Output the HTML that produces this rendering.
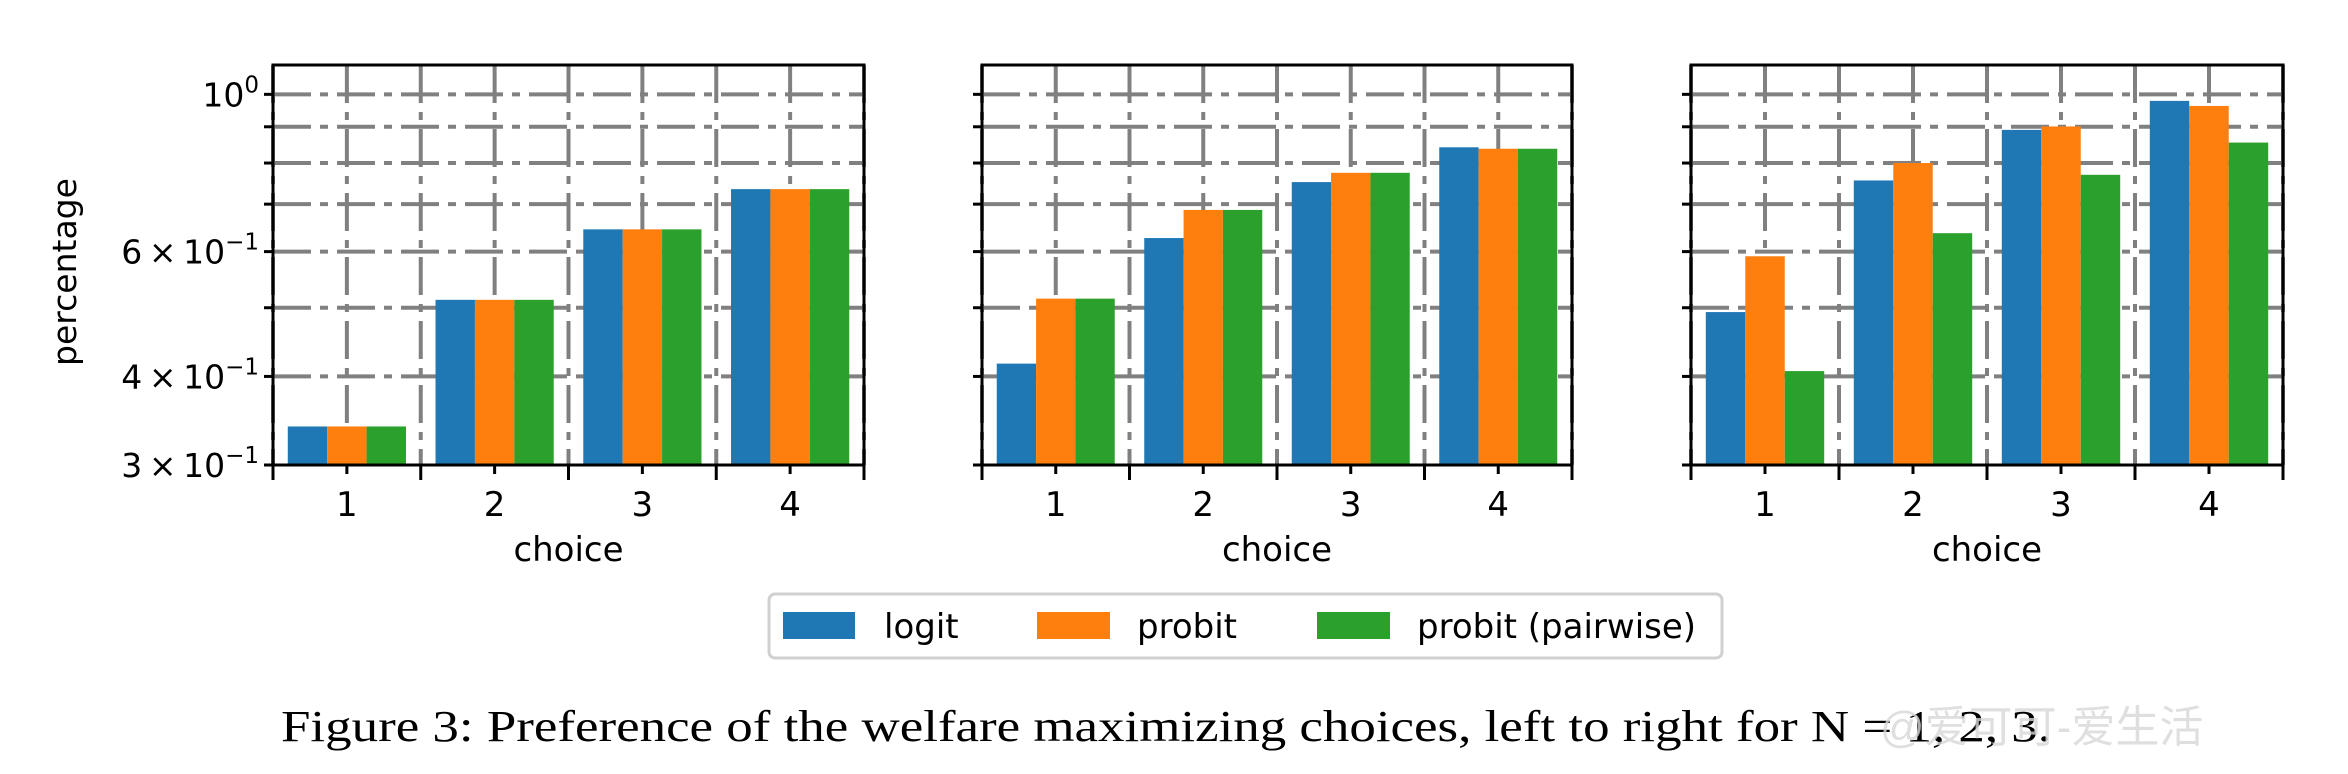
<!DOCTYPE html>
<html><head><meta charset="utf-8">
<style>
html,body{margin:0;padding:0;background:#fff;}
svg{display:block;}
</style></head>
<body>
<svg id="fig" width="2348" height="774" viewBox="0 0 2348 774" xmlns="http://www.w3.org/2000/svg" font-family="DejaVu Sans, Liberation Sans, sans-serif">
<rect x="0" y="0" width="2348" height="774" fill="#fff"/>
<g id="panels"></g>
<text x="0" y="0" transform="translate(76,272) rotate(-90)" text-anchor="middle" font-size="33" fill="#000">percentage</text>
<g>
<rect x="769" y="594" width="953" height="64" rx="6" fill="#fff" stroke="#d0d0d0" stroke-width="3"/>
<g><rect x="783" y="612" width="72" height="27" fill="#1f77b4"/><text x="884" y="638" font-size="34">logit</text></g>
<g><rect x="1037" y="612" width="73" height="27" fill="#ff7f0e"/><text x="1137" y="638" font-size="34">probit</text></g>
<g><rect x="1317" y="612" width="73" height="27" fill="#2ca02c"/><text x="1417" y="638" font-size="34">probit (pairwise)</text></g>
</g>
<text x="281" y="741" font-family="Liberation Serif, serif" font-size="44" textLength="1770" lengthAdjust="spacingAndGlyphs" fill="#000">Figure 3: Preference of the welfare maximizing choices, left to right for N = 1, 2, 3.</text>
<text x="1880" y="742" font-family="Liberation Sans, Noto Sans CJK SC, sans-serif" font-size="44" fill="#d8d8d8" opacity="0.8">@爱可可-爱生活</text>
</svg>
<script>
const categories = [1, 2, 3, 4];
const seriesNames = ["logit", "probit", "probit (pairwise)"];
const seriesColors = ["#1f77b4", "#ff7f0e", "#2ca02c"];
const panel1Logit = [0.340, 0.513, 0.645, 0.735];
const panel1Probit = [0.340, 0.513, 0.645, 0.735];
const panel1Pairwise = [0.340, 0.513, 0.645, 0.735];
const panel2Logit = [0.417, 0.627, 0.752, 0.842];
const panel2Probit = [0.515, 0.687, 0.775, 0.838];
const panel2Pairwise = [0.515, 0.687, 0.775, 0.838];
const panel3Logit = [0.493, 0.756, 0.891, 0.979];
const panel3Probit = [0.591, 0.800, 0.901, 0.963];
const panel3Pairwise = [0.407, 0.637, 0.770, 0.855];
const yMajorTicks = [0.3, 0.4, 0.6, 1.0];
const yMajorLabels = [["3","−1"], ["4","−1"], ["6","−1"], [null,"0"]];
const yMinorTicks = [0.5, 0.7, 0.8, 0.9];
const yDomain = [0.3, 1.1];

const panels = [
  {left: 273, right: 864, labels: true, series: [panel1Logit, panel1Probit, panel1Pairwise]},
  {left: 982, right: 1572, labels: false, series: [panel2Logit, panel2Probit, panel2Pairwise]},
  {left: 1691, right: 2283, labels: false, series: [panel3Logit, panel3Probit, panel3Pairwise]}
];
const TOP = 65, BOTTOM = 465;
const NS = "http://www.w3.org/2000/svg";
const root = document.getElementById('panels');
function mk(tag, attrs, parent) {
  const e = document.createElementNS(NS, tag);
  for (const k in attrs) e.setAttribute(k, attrs[k]);
  parent.appendChild(e);
  return e;
}
function yScale(v) {
  const l0 = Math.log10(yDomain[0]), l1 = Math.log10(yDomain[1]);
  return BOTTOM - (Math.log10(v) - l0) / (l1 - l0) * (BOTTOM - TOP);
}
panels.forEach((p, pi) => {
  const g = mk('g', {}, root);
  
  
  const xScale = v => p.left + (v - 0.5) / 4 * (p.right - p.left);
  const grid = mk('g', {stroke: '#808080', 'stroke-width': 4, 'stroke-dasharray': '38 9 8 9', fill: 'none'}, g);
  
  
  yMajorTicks.concat(yMinorTicks).forEach(v => {
    if (v <= yDomain[0]) return;
    const y = yScale(v);
    mk('line', {x1: p.left, x2: p.right, y1: y, y2: y}, grid);
  });
  const xGrid = [];
  categories.forEach(c => { xGrid.push(c); xGrid.push(c + 0.5); });
  xGrid.push(0.5);
  xGrid.forEach(v => {
    const x = xScale(v);
    mk('line', {x1: x, x2: x, y1: TOP, y2: BOTTOM}, grid);
  });
  const bw = 0.8 / 3;
  p.series.forEach((vals, si) => {
    vals.forEach((v, ci) => {
      const x0 = xScale(categories[ci] - 0.4 + si * bw);
      const x1 = xScale(categories[ci] - 0.4 + (si + 1) * bw);
      const r = mk('rect', {x: x0, y: yScale(v), width: x1 - x0, height: BOTTOM - yScale(v), fill: seriesColors[si]}, g);
      
      
    });
  });
  mk('rect', {x: p.left, y: TOP, width: p.right - p.left, height: BOTTOM - TOP, fill: 'none', stroke: '#000', 'stroke-width': 3}, g);
  const ticks = mk('g', {stroke: '#000', 'stroke-width': 3}, g);
  
  
  yMajorTicks.concat(yMinorTicks).forEach(v => {
    const y = yScale(v);
    mk('line', {x1: p.left - 9, x2: p.left, y1: y, y2: y}, ticks);
  });
  categories.forEach(c => {
    const x = xScale(c);
    mk('line', {x1: x, x2: x, y1: BOTTOM, y2: BOTTOM + 9}, ticks);
  });
  [0.5, 1.5, 2.5, 3.5, 4.5].forEach(v => {
    const x = xScale(v);
    mk('line', {x1: x, x2: x, y1: BOTTOM, y2: BOTTOM + 15}, ticks);
  });
  categories.forEach(c => {
    const t = mk('text', {x: xScale(c), y: 516, 'text-anchor': 'middle', 'font-size': 34}, g);
    t.textContent = String(c);
    
    
  });
  const xl = mk('text', {x: (p.left + p.right) / 2, y: 561, 'text-anchor': 'middle', 'font-size': 34}, g);
  xl.textContent = 'choice';
  
  
  if (p.labels) {
    yMajorTicks.forEach((v, i) => {
      const lab = yMajorLabels[i];
      const t = mk('text', {x: p.left - 14, y: yScale(v) + 12, 'text-anchor': 'end', 'font-size': 33}, g);
      
      
      const s1 = mk('tspan', {}, t);
      s1.textContent = lab[0] ? lab[0] + '\u2009×\u200910' : '10';
      const s2 = mk('tspan', {dy: -14, 'font-size': 23}, t);
      s2.textContent = lab[1];
    });
  }
});
</script>
</body></html>
